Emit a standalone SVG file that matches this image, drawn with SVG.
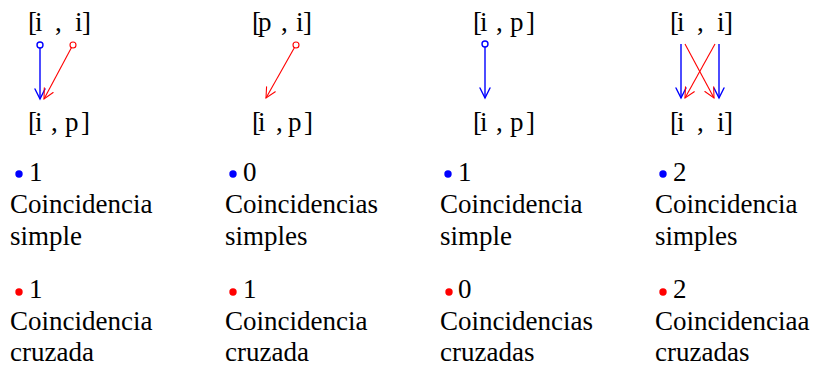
<svg xmlns="http://www.w3.org/2000/svg" width="817" height="369" viewBox="0 0 817 369">
<style>
text{font-family:"Liberation Serif","DejaVu Serif",serif;font-size:27px;fill:#000}
.b{stroke:#0000ff;stroke-width:1.4;fill:none}
.r{stroke:#ff0000;stroke-width:1.1;fill:none}
.db{fill:#0000ff}
.dr{fill:#ff0000}
</style>
<defs>
<marker id="ab" markerUnits="userSpaceOnUse" markerWidth="14" markerHeight="14" viewBox="-12 -7 14 14" refX="0" refY="0" orient="auto" overflow="visible">
<path d="M-10,-5 Q-3,-1.5 0,0 Q-3,1.5 -10,5" fill="none" stroke="#0000ff" stroke-width="1.4" stroke-linecap="round"/>
</marker>
<marker id="ar" markerUnits="userSpaceOnUse" markerWidth="14" markerHeight="14" viewBox="-12 -7 14 14" refX="0" refY="0" orient="auto" overflow="visible">
<path d="M-10,-5 Q-3,-1.5 0,0 Q-3,1.5 -10,5" fill="none" stroke="#ff0000" stroke-width="1.1" stroke-linecap="round"/>
</marker>
</defs>

<g id="top1"><text x="28 35 55 75 82" y="31">[i,i]</text></g>
<g id="bot1"><text x="28 35 51 65 81" y="131">[i,p]</text></g>
<g id="top2"><text x="252 258 281 296 303" y="31">[p,i]</text></g>
<g id="bot2"><text x="252 258 276 288 304" y="131">[i,p]</text></g>
<g id="top3"><text x="473 480 496 510 526" y="31">[i,p]</text></g>
<g id="bot3"><text x="473 480 496 510 526" y="131">[i,p]</text></g>
<g id="top4"><text x="670 677 697 717 724" y="31">[i,i]</text></g>
<g id="bot4"><text x="670 677 697 717 724" y="131">[i,i]</text></g>

<g id="connectors">
<circle class="b" cx="40" cy="45" r="3"/>
<line class="b" x1="40" y1="48" x2="40" y2="99" marker-end="url(#ab)"/>
<circle class="r" cx="73" cy="45" r="3"/>
<line class="r" x1="71.5" y1="47.6" x2="44" y2="99" marker-end="url(#ar)"/>
<circle class="r" cx="296" cy="45" r="3"/>
<line class="r" x1="294.5" y1="47.6" x2="266" y2="98" marker-end="url(#ar)"/>
<circle class="b" cx="485" cy="44" r="3"/>
<line class="b" x1="485" y1="47" x2="485" y2="98" marker-end="url(#ab)"/>
<line class="b" x1="681" y1="44" x2="681" y2="98" marker-end="url(#ab)"/>
<line class="b" x1="719" y1="44" x2="719" y2="98" marker-end="url(#ab)"/>
<line class="r" x1="685" y1="44" x2="714" y2="98" marker-end="url(#ar)"/>
<line class="r" x1="715" y1="44" x2="685" y2="98" marker-end="url(#ar)"/>
</g>

<g id="stat1">
<circle class="db" cx="19" cy="174" r="3.7"/><text x="29" y="181">1</text>
<text x="10" y="213">Coincidencia</text><text x="10" y="245">simple</text>
<circle class="dr" cx="19" cy="292" r="3.7"/><text x="29" y="298">1</text>
<text x="10" y="330">Coincidencia</text><text x="10" y="361">cruzada</text>
</g>
<g id="stat2">
<circle class="db" cx="233" cy="174" r="3.7"/><text x="243" y="181">0</text>
<text x="225" y="213">Coincidencias</text><text x="225" y="245">simples</text>
<circle class="dr" cx="233" cy="292" r="3.7"/><text x="243" y="298">1</text>
<text x="225" y="330">Coincidencia</text><text x="225" y="361">cruzada</text>
</g>
<g id="stat3">
<circle class="db" cx="448" cy="174" r="3.7"/><text x="458" y="181">1</text>
<text x="440" y="213">Coincidencia</text><text x="440" y="245">simple</text>
<circle class="dr" cx="449" cy="292" r="3.7"/><text x="458" y="298">0</text>
<text x="440" y="330">Coincidencias</text><text x="440" y="361">cruzadas</text>
</g>
<g id="stat4">
<circle class="db" cx="663" cy="174" r="3.7"/><text x="673" y="181">2</text>
<text x="655" y="213">Coincidencia</text><text x="655" y="245">simples</text>
<circle class="dr" cx="663" cy="292" r="3.7"/><text x="673" y="298">2</text>
<text x="655" y="330">Coincidenciaa</text><text x="655" y="361">cruzadas</text>
</g>
</svg>
